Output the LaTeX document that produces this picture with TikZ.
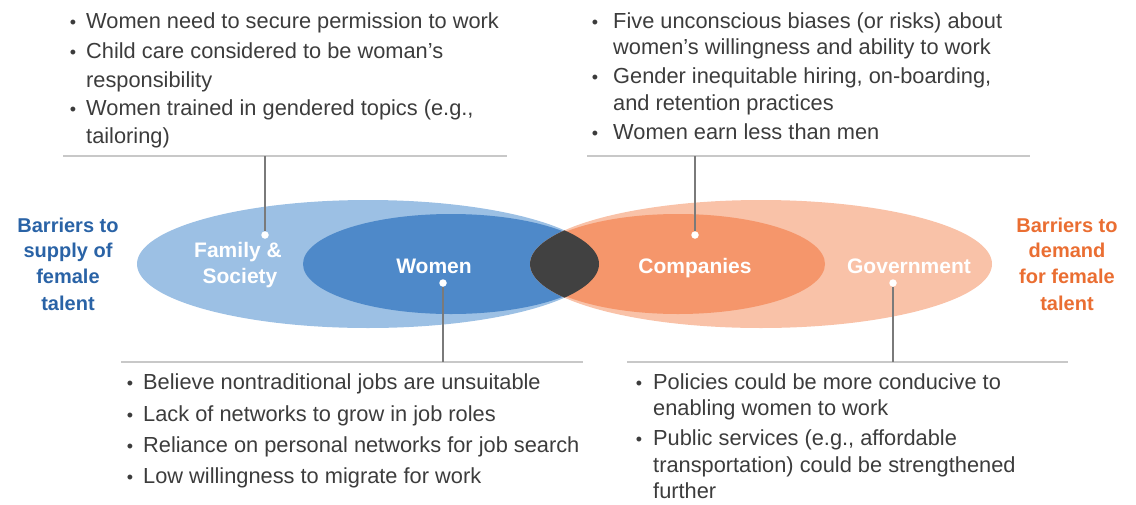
\documentclass[tikz,border=0pt]{standalone}
\usepackage{fontspec}
\setmainfont{Liberation Sans}
\definecolor{blueout}{HTML}{9CC0E4}
\definecolor{bluein}{HTML}{4E89C9}
\definecolor{orgout}{HTML}{F9C2A8}
\definecolor{orgin}{HTML}{F5966B}
\definecolor{lensc}{HTML}{414141}
\definecolor{textgray}{HTML}{3C3C3C}
\definecolor{rulegray}{HTML}{C8C8C8}
\definecolor{conngray}{HTML}{7A7A7A}
\definecolor{bluetxt}{HTML}{2A63A6}
\definecolor{orgtxt}{HTML}{EA6E32}
\begin{document}
\begin{tikzpicture}[x=1pt,y=-1pt,
  txt/.style={anchor=base west, inner sep=0pt, text=textgray, font=\fontsize{21.8}{26}\selectfont},
  bul/.style={anchor=base, inner sep=0pt, text=textgray, font=\fontsize{18}{18}\selectfont},
  lab/.style={anchor=base, inner sep=0pt, text=white, font=\bfseries\fontsize{21}{21}\selectfont},
  side/.style={anchor=base, inner sep=0pt, font=\bfseries\fontsize{20}{20}\selectfont},
  rulel/.style={draw=rulegray, line width=1.5pt},
  conn/.style={draw=conngray, line width=1.5pt},
  dotc/.style={circle, fill=white, inner sep=0pt, minimum size=7.5pt}]
\useasboundingbox (0,0) rectangle (1136,504);
% ellipses
\fill[blueout] (368,264) ellipse [x radius=231pt, y radius=64pt];
\fill[bluein] (451,264) ellipse [x radius=148pt, y radius=50pt];
\fill[orgout] (761,264) ellipse [x radius=231pt, y radius=64pt];
\fill[orgin] (678,264) ellipse [x radius=147pt, y radius=50pt];
\begin{scope}
  \clip (368,264) ellipse [x radius=231pt, y radius=64pt];
  \fill[lensc] (761,264) ellipse [x radius=231pt, y radius=64pt];
\end{scope}
% ellipse labels
\node[lab] (fam1) at (238,257) {Family \&};
\node[lab] (fam2) at (240,283) {Society};
\node[lab] (wom) at (434,273) {Women};
\node[lab] (comp) at (695,273) {Companies};
\node[lab] (gov) at (909,273) {Government};
% side labels
\node[side, text=bluetxt] (sl1) at (68,232) {Barriers to};
\node[side, text=bluetxt] (sl2) at (68,257) {supply of};
\node[side, text=bluetxt] (sl3) at (68,283) {female};
\node[side, text=bluetxt] (sl4) at (68,310) {talent};
\node[side, text=orgtxt] (sr1) at (1067,232) {Barriers to};
\node[side, text=orgtxt] (sr2) at (1067,257) {demand};
\node[side, text=orgtxt] (sr3) at (1067,283) {for female};
\node[side, text=orgtxt] (sr4) at (1067,310) {talent};
% rules
\coordinate (tla) at (63,156); \coordinate (tlb) at (507,156);
\coordinate (tra) at (587,156); \coordinate (trb) at (1030,156);
\coordinate (bla) at (121,362); \coordinate (blb) at (583,362);
\coordinate (bra) at (627,362); \coordinate (brb) at (1068,362);
\draw[rulel] (tla) -- (tlb);
\draw[rulel] (tra) -- (trb);
\draw[rulel] (bla) -- (blb);
\draw[rulel] (bra) -- (brb);
% connectors and dots
\coordinate (c1) at (265,156);
\coordinate (c2) at (695,156);
\coordinate (c3) at (443,362);
\coordinate (c4) at (893,362);
\node[dotc] (d1) at (265,235) {};
\node[dotc] (d2) at (695,235) {};
\node[dotc] (d3) at (443,283) {};
\node[dotc] (d4) at (893,283) {};
\draw[conn] (d1.north) -- (c1);
\draw[conn] (d2.north) -- (c2);
\draw[conn] (d3.south) -- (c3);
\draw[conn] (d4.south) -- (c4);
% top-left text
\node[bul] (tlb1) at (73,28) {•};
\node[txt] (tl1) at (86,28) {Women need to secure permission to work};
\node[bul] (tlb2) at (73,58) {•};
\node[txt] (tl2) at (86,58) {Child care considered to be woman’s};
\node[txt] (tl3) at (86,87) {responsibility};
\node[bul] (tlb3) at (73,115) {•};
\node[txt] (tl4) at (86,115) {Women trained in gendered topics (e.g.,};
\node[txt] (tl5) at (86,143) {tailoring)};
% top-right text
\node[bul] (trb1) at (595,28) {•};
\node[txt] (tr1) at (613,28) {Five unconscious biases (or risks) about};
\node[txt] (tr2) at (613,54) {women’s willingness and ability to work};
\node[bul] (trb2) at (595,83) {•};
\node[txt] (tr3) at (613,83) {Gender inequitable hiring, on-boarding,};
\node[txt] (tr4) at (613,110) {and retention practices};
\node[bul] (trb3) at (595,139) {•};
\node[txt] (tr5) at (613,139) {Women earn less than men};
% bottom-left text
\node[bul] (blb1) at (130,389) {•};
\node[txt] (bl1) at (143,389) {Believe nontraditional jobs are unsuitable};
\node[bul] (blb2) at (130,421) {•};
\node[txt] (bl2) at (143,421) {Lack of networks to grow in job roles};
\node[bul] (blb3) at (130,452) {•};
\node[txt] (bl3) at (143,452) {Reliance on personal networks for job search};
\node[bul] (blb4) at (130,483) {•};
\node[txt] (bl4) at (143,483) {Low willingness to migrate for work};
% bottom-right text
\node[bul] (brb1) at (639,389) {•};
\node[txt] (br1) at (653,389) {Policies could be more conducive to};
\node[txt] (br2) at (653,415) {enabling women to work};
\node[bul] (brb2) at (639,445) {•};
\node[txt] (br3) at (653,445) {Public services (e.g., affordable};
\node[txt] (br4) at (653,472) {transportation) could be strengthened};
\node[txt] (br5) at (653,498) {further};
\end{tikzpicture}
\end{document}
